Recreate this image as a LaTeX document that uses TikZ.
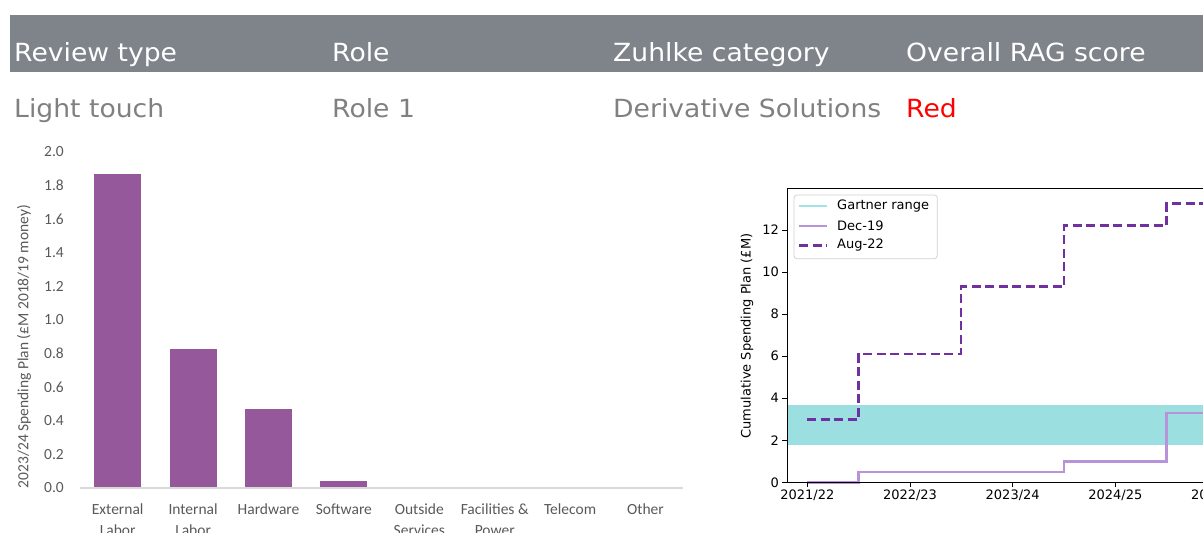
\documentclass[tikz,border=0pt]{standalone}
\usepackage{fontspec}
\newfontfamily\hdrfont[FakeStretch=1.065]{DejaVu Sans}
\newfontfamily\xlfont{Carlito}
\newfontfamily\mplfont{DejaVu Sans}
\definecolor{hdrgrey}{RGB}{127,132,139}
\definecolor{valgrey}{RGB}{128,128,128}
\definecolor{ragred}{RGB}{255,0,0}
\definecolor{barpurple}{RGB}{149,89,155}
\definecolor{xltext}{RGB}{89,89,89}
\definecolor{xlaxis}{RGB}{217,217,217}
\definecolor{augpurple}{RGB}{112,48,160}
\definecolor{decpurple}{RGB}{183,148,217}
\definecolor{gartner}{RGB}{155,223,224}
\definecolor{gartnerline}{RGB}{160,228,234}
\definecolor{legendedge}{RGB}{210,210,210}

\begin{document}
\begin{tikzpicture}[x=1pt,y=-1pt,
  hdr/.style={anchor=base west, inner sep=0pt, font=\hdrfont\fontsize{25}{30}\selectfont, text=white},
  val/.style={hdr, text=valgrey},
  xltick/.style={anchor=east, inner sep=0pt, font=\xlfont\fontsize{15.5}{18}\selectfont, text=xltext},
  xlcat/.style={anchor=base, inner sep=0pt, align=center, font=\xlfont\fontsize{15.5}{21}\selectfont, text=xltext},
  bar/.style={fill=barpurple, draw=none},
  mpl/.style={inner sep=0pt, font=\mplfont\fontsize{13}{15}\selectfont, text=black},
  spine/.style={black, line width=1},
  decline/.style={decpurple, line width=2.6},
  augline/.style={augpurple, line width=2.6, dash pattern=on 9 off 4.5},
  gline/.style={gartnerline, line width=1.2}
]
\useasboundingbox (0,0) rectangle (1203,533);
\clip (0,0) rectangle (1203,533);

% ---- summary table ----
\fill[hdrgrey] (10,14.7) rectangle (1203,71.7);
\node[hdr] (hType) at (14,61.5) {Review type};
\node[hdr] (hRole) at (332,61.5) {Role};
\node[hdr] (hCat)  at (613,61.5) {Zuhlke category};
\node[hdr] (hRag)  at (906,61.5) {Overall RAG score};
\node[val] (vType) at (14,117) {Light touch};
\node[val] (vRole) at (332,117) {Role 1};
\node[val] (vCat)  at (613,117) {Derivative Solutions};
\node[val, text=ragred] (vRag) at (906,117) {Red};

% ---- bar chart: 2023/24 spending by category ----
\foreach \v/\y in {2.0/152,1.8/185.6,1.6/219.2,1.4/252.8,1.2/286.4,1.0/320,0.8/353.6,0.6/387.2,0.4/420.8,0.2/454.4,0.0/488}
  \node[xltick] (bt\v) at (64,\y) {\v};
\node[xltick, anchor=center, rotate=90] (bylabel) at (24,346.5) {2023/24 Spending Plan (£M 2018/19 money)};

\fill[bar] (94.2,173.7)  rectangle (141.2,488);
\fill[bar] (169.6,349)   rectangle (216.6,488);
\fill[bar] (245.0,409.3) rectangle (292.0,488);
\fill[bar] (320.4,481)   rectangle (367.4,488);
\draw[xlaxis, line width=1.2] (80,488) -- (683,488);

% two-line labels are placed by the baseline of their second line
\node[xlcat] (c1) at (117.7,535) {External\\Labor};
\node[xlcat] (c2) at (193.1,535) {Internal\\Labor};
\node[xlcat] (c3) at (268.5,514) {Hardware};
\node[xlcat] (c4) at (343.9,514) {Software};
\node[xlcat] (c5) at (419.3,535) {Outside\\Services};
\node[xlcat] (c6) at (494.7,535) {Facilities \&\\Power};
\node[xlcat] (c7) at (570.1,514) {Telecom};
\node[xlcat] (c8) at (645.5,514) {Other};

% ---- step chart: cumulative spending plan ----
\fill[gartner] (787,404.7) rectangle (1210,445.1);
\draw[decline] (807,482.3) -| (858.5,471.8) -| (1064,461.3) -| (1166.7,412.9) -- (1210,412.9);
\draw[augline] (807,419.2) -| (858.5,354.0) -| (961,286.7) -| (1064,225.7) -| (1166.7,203.7) -- (1210,203.7);
\draw[spine] (1210,188.3) -- (787,188.3) -- (787,482.3) -- (1210,482.3);

\foreach \v/\y in {0/482.3,2/440.2,4/398.2,6/356.1,8/314.1,10/272.0,12/230.0}{
  \draw[spine] (782.2,\y) -- (787,\y);
  \node[mpl, anchor=east] (st\v) at (779,\y) {\v};
}
\foreach \x in {807.3,910,1012.7,1115.3}{
  \draw[spine] (\x,482.3) -- (\x,487.1);
}
\node[mpl, anchor=north] (sx1) at (807.3,489.5) {2021/22};
\node[mpl, anchor=north] (sx2) at (910,489.5) {2022/23};
\node[mpl, anchor=north] (sx3) at (1012.7,489.5) {2023/24};
\node[mpl, anchor=north] (sx4) at (1115.3,489.5) {2024/25};
\node[mpl, anchor=north west] (sx5) at (1191,489.5) {20};
\node[mpl, rotate=90] (sylabel) at (747,336) {Cumulative Spending Plan (£M)};

% legend
\draw[legendedge, line width=0.8, rounded corners=3, fill=white, fill opacity=0.8] (794,195) rectangle (937.3,258.7);
\draw[gline]   (799,206)   -- (826.7,206);
\draw[decline] (799,226)   -- (826.7,226);
\draw[augline] (799,245.3) -- (826.7,245.3);
\node[mpl, anchor=west] (lg1) at (837,206)   {Gartner range};
\node[mpl, anchor=west] (lg2) at (837,226)   {Dec-19};
\node[mpl, anchor=west] (lg3) at (837,245.3) {Aug-22};
\end{tikzpicture}
\end{document}
